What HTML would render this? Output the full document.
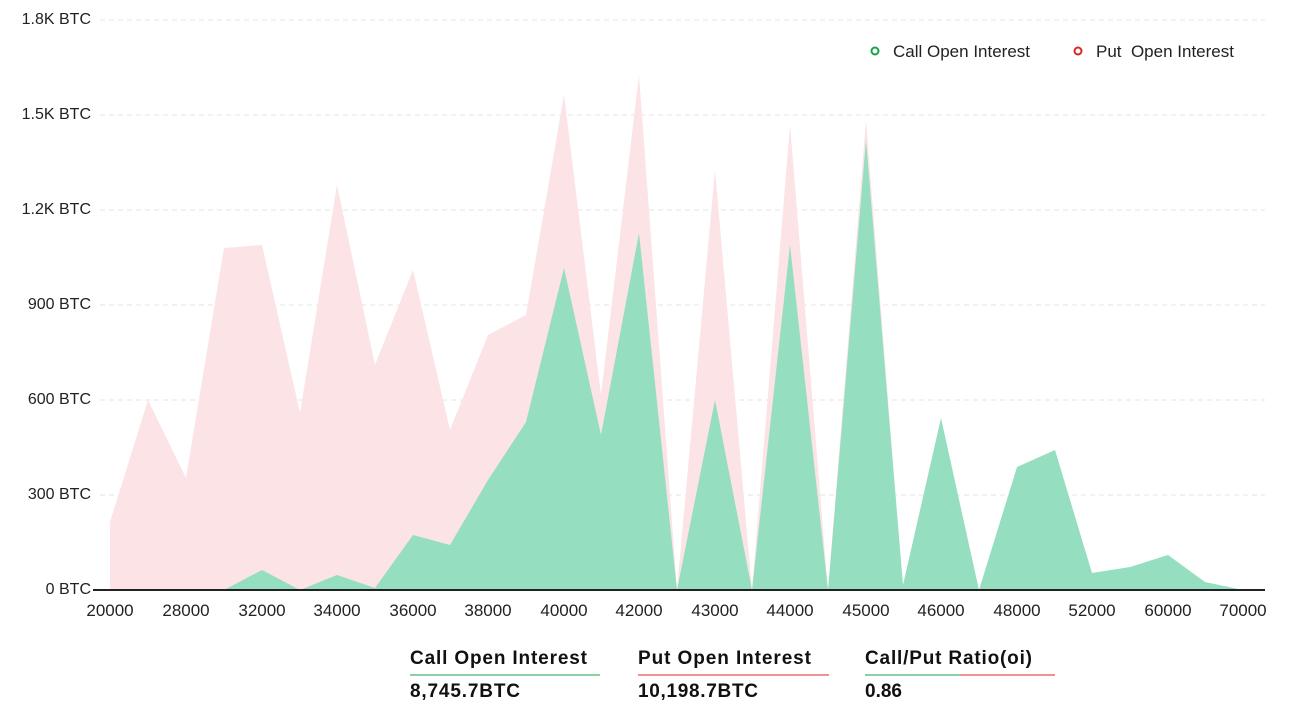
<!DOCTYPE html>
<html><head><meta charset="utf-8"><style>
body{margin:0;background:#fff;font-family:"Liberation Sans",sans-serif;}
</style></head><body>
<svg width="1290" height="714" xmlns="http://www.w3.org/2000/svg" style="display:block">
<g stroke="#e4e4e4" stroke-dasharray="5,4" stroke-width="1">
<line x1="100" y1="20" x2="1265" y2="20"/><line x1="100" y1="115" x2="1265" y2="115"/>
<line x1="100" y1="210" x2="1265" y2="210"/><line x1="100" y1="305" x2="1265" y2="305"/>
<line x1="100" y1="400" x2="1265" y2="400"/><line x1="100" y1="495" x2="1265" y2="495"/>
</g>
<g font-size="16" fill="#222" text-anchor="end">
<text x="91" y="24">1.8K BTC</text><text x="91" y="119">1.5K BTC</text>
<text x="91" y="214">1.2K BTC</text><text x="91" y="309">900 BTC</text>
<text x="91" y="404">600 BTC</text><text x="91" y="499">300 BTC</text>
<text x="91" y="594">0 BTC</text>
</g>
<polygon fill="#fbe3e6" points="110,590 110,522 148,400 186,478 224,248 262,245 300,413 337,185 375,365 413,270 450,430 488,335 526,315 564,95 601,395 639,75 677,590 715,170 752,590 790,125 828,590 866,120 903,590"/>
<polygon fill="#96dec0" points="110,590 224,590 262,570 300,590 337,575 375,588 413,535 450,545 488,480 526,422 564,268 601,435 639,233 677,590 715,400 752,590 790,245 828,590 866,140 903,585 941,418 979,590 1017,467 1055,450 1092,573 1130,567 1168,555 1205,582 1243,590"/>
<line x1="93" y1="590" x2="1265" y2="590" stroke="#222" stroke-width="2"/>
<g font-size="17" fill="#222" text-anchor="middle">
<text x="110" y="616">20000</text><text x="186" y="616">28000</text><text x="262" y="616">32000</text><text x="337" y="616">34000</text>
<text x="413" y="616">36000</text><text x="488" y="616">38000</text><text x="564" y="616">40000</text><text x="639" y="616">42000</text>
<text x="715" y="616">43000</text><text x="790" y="616">44000</text><text x="866" y="616">45000</text><text x="941" y="616">46000</text>
<text x="1017" y="616">48000</text><text x="1092" y="616">52000</text><text x="1168" y="616">60000</text><text x="1243" y="616">70000</text>
</g>
<circle cx="875" cy="51" r="3.5" fill="none" stroke="#16a34a" stroke-width="2"/>
<text x="893" y="57" font-size="17" fill="#222">Call Open Interest</text>
<circle cx="1078" cy="51" r="3.5" fill="none" stroke="#dc2626" stroke-width="2"/>
<text x="1096" y="57" font-size="17" fill="#222" xml:space="preserve">Put  Open Interest</text>
<g font-size="19" font-weight="bold" fill="#111">
<text x="410" y="664" textLength="177">Call Open Interest</text><text x="410" y="697" textLength="110">8,745.7BTC</text>
<text x="638" y="664" textLength="173">Put Open Interest</text><text x="638" y="697" textLength="120">10,198.7BTC</text>
<text x="865" y="664" textLength="167">Call/Put Ratio(oi)</text><text x="865" y="697">0.86</text>
</g>
<line x1="410" y1="675" x2="600" y2="675" stroke="#16a34a"/>
<line x1="638" y1="675" x2="829" y2="675" stroke="#dc2626"/>
<line x1="865" y1="675" x2="960" y2="675" stroke="#16a34a"/>
<line x1="960" y1="675" x2="1055" y2="675" stroke="#dc2626"/>
</svg>
</body></html>
